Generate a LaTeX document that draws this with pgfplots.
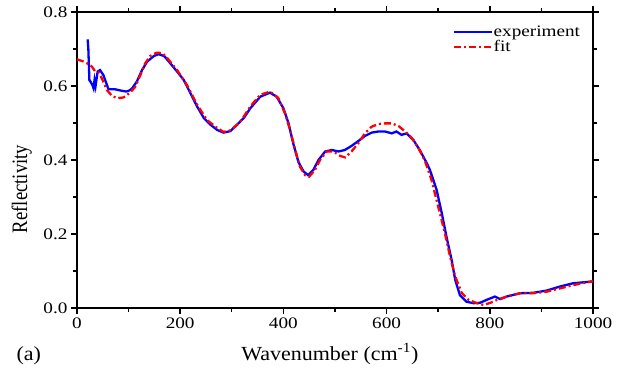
\documentclass[border=0pt]{standalone}
\usepackage{pgfplots}
\pgfplotsset{compat=1.18}
\usepackage{fontspec}
\setmainfont{Liberation Serif}
\newfontfamily\tickfont[FakeStretch=1.2]{Liberation Serif}
\newfontfamily\labfont[FakeStretch=1.1]{Liberation Serif}
\newfontfamily\yfont[FakeStretch=0.85]{Liberation Serif}
\newfontfamily\legfont[FakeStretch=1.2]{Liberation Serif}
\definecolor{expblue}{RGB}{0,0,255}
\definecolor{fitred}{RGB}{255,0,0}
\begin{document}
\begin{tikzpicture}
\begin{axis}[
  name=ax,
  scale only axis,
  width=516pt, height=296pt,
  xmin=0, xmax=1000, ymin=0, ymax=0.8,
  xtick={0,200,400,600,800,1000},
  ytick={0,0.2,0.4,0.6,0.8},
  minor x tick num=1, minor y tick num=1,
  tick align=outside,
  major tick length=6pt, minor tick length=4pt,
  axis line style={line width=1.6pt},
  every tick/.style={line width=1.4pt, black},
  /pgf/number format/assume math mode=true,
  xticklabel style={font=\tickfont\fontsize{16}{16}\selectfont, /pgf/number format/.cd, fixed, precision=0, 1000 sep={}},
  yticklabel style={font=\tickfont\fontsize{16}{16}\selectfont, /pgf/number format/.cd, fixed, fixed zerofill, precision=1},
  xlabel={\labfont\fontsize{20}{20}\selectfont Wavenumber (cm\textsuperscript{-1})},
  xlabel style={at={(axis description cs:0.49,-0.176)}, anchor=base},
  ylabel={\yfont\fontsize{22}{22}\selectfont Reflectivity},
  ylabel style={at={(axis description cs:-0.107,0.402)}, anchor=center, rotate=0},
  legend style={at={(axis description cs:0.728,0.955)}, anchor=north west, draw=none, fill=none,
    font=\legfont\fontsize{16}{16}\selectfont, inner sep=0pt, row sep=1.5pt,
    nodes={inner sep=0.5pt}},
  legend cell align=left,
  legend image code/.code={\draw[#1] (0pt,0pt) -- (38pt,0pt);},
  clip=false,
]
\addplot[expblue, line width=2.3pt] coordinates {
(20.7,0.726) (22,0.70) (24,0.616) (26.5,0.611) (29.7,0.603) (32,0.594) (34,0.616) (36,0.600)
(40,0.639) (44.6,0.643) (51,0.630) (58,0.603) (61,0.591) (74,0.591) (87,0.587) (96,0.585)
(103,0.589) (107,0.594) (116,0.612) (126,0.643) (136,0.666) (149,0.681) (158,0.686) (169,0.681)
(181,0.661) (194,0.639) (207,0.616) (220,0.580) (233,0.544) (246,0.513) (259,0.495) (272,0.481)
(284,0.474) (297,0.478) (310,0.495) (323,0.513) (336,0.540) (355,0.571) (374,0.582) (387,0.571)
(400,0.540) (410,0.499) (419,0.445) (429,0.395) (439,0.369) (448,0.359) (458,0.373) (468,0.400)
(481,0.423) (494,0.427) (507,0.423) (519,0.427) (532,0.438) (545,0.451) (558,0.465) (571,0.474)
(584,0.477) (597,0.477) (610,0.472) (619,0.477) (629,0.468) (639,0.472) (645,0.463) (652,0.454)
(665,0.425) (678,0.391) (684,0.373) (697,0.319) (707,0.256) (716,0.193) (726,0.130) (733,0.076)
(742,0.035) (755,0.017) (768,0.013) (781,0.014) (794,0.022) (810,0.031) (820,0.024) (833,0.031)
(859,0.040) (884,0.041) (910,0.047) (936,0.058) (962,0.067) (994,0.071) (1000,0.072)
};
\addlegendentry{experiment}
\addplot[fitred, line width=2.3pt, dash pattern=on 7pt off 3pt on 2pt off 3pt] coordinates {
(0,0.672) (13,0.666) (23,0.659) (29,0.652) (35,0.640) (42,0.636) (48,0.621) (58,0.589)
(68,0.573) (78,0.567) (90,0.569) (103,0.582) (113,0.598) (123,0.630) (132,0.661) (142,0.681)
(154,0.690) (165,0.689) (174,0.677) (194,0.643) (213,0.603) (233,0.549) (252,0.508) (272,0.486)
(284,0.476) (297,0.480) (316,0.502) (336,0.545) (355,0.576) (374,0.585) (390,0.568) (403,0.526)
(413,0.481) (423,0.427) (432,0.382) (442,0.359) (450,0.355) (461,0.373) (471,0.400) (484,0.423)
(497,0.423) (510,0.411) (520,0.407) (532,0.423) (545,0.445) (558,0.472) (571,0.490) (584,0.497)
(597,0.499) (610,0.499) (623,0.492) (636,0.477) (649,0.459) (662,0.432) (675,0.395) (687,0.346)
(700,0.274) (713,0.202) (723,0.139) (733,0.085) (746,0.040) (759,0.022) (775,0.013) (788,0.008)
(801,0.014) (814,0.022) (833,0.031) (859,0.040) (884,0.040) (910,0.044) (936,0.053) (962,0.062)
(994,0.071) (1000,0.072)
};
\addlegendentry{fit}
\coordinate (SW) at (rel axis cs:0,0);
\coordinate (NE) at (rel axis cs:1,1);
\node[anchor=base west, font=\labfont\fontsize{20}{20}\selectfont] at (axis description cs:-0.124,-0.176) {(a)};
\end{axis}
\pgfresetboundingbox
\path ([shift={(-77pt,-61pt)}]SW) rectangle ([shift={(29pt,12pt)}]NE);
\end{tikzpicture}
\end{document}
